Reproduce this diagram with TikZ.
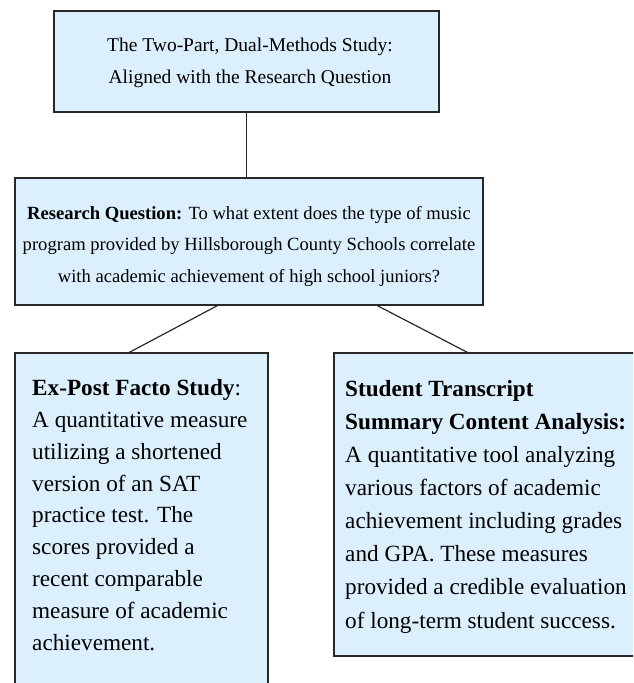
\documentclass[tikz,border=0pt]{standalone}
\usepackage{fontspec}
\setmainfont{Liberation Serif}
\definecolor{boxfill}{RGB}{220,239,252}
\definecolor{boxline}{RGB}{40,40,40}
\begin{document}
\begin{tikzpicture}[x=1pt,y=-1pt,
  box/.style={draw=boxline,fill=boxfill,line width=1.3pt,inner sep=0pt},
  txt/.style={inner sep=0pt,font=\fontsize{19.5}{32}\selectfont},
  conn/.style={draw=boxline,line width=1.2pt}]
\useasboundingbox (0,0) rectangle (633,683);
\clip (0,0) rectangle (633,683);
\node[box,minimum width=385pt,minimum height=101pt] (b1) at (246.5,61.5) {};
\node[box,minimum width=468pt,minimum height=127pt] (b2) at (249,241.5) {};
\node[box,minimum width=253pt,minimum height=380pt] (b3) at (141.5,543) {};
\node[box,minimum width=316pt,minimum height=303pt] (b4) at (492,504.5) {};
\node[txt,align=center] (t1) at (250,63) {The Two-Part, Dual-Methods Study:\\Aligned with the Research Question};
\node[txt,align=center,font=\fontsize{18.6}{31.5}\selectfont] (t2) at (249,246) {\textbf{Research Question:} To what extent does the type of music\\program provided by Hillsborough County Schools correlate\\with academic achievement of high school juniors?};
\node[txt,align=left,anchor=north west,font=\fontsize{23.2}{31.9}\selectfont] (t3) at (32,379) {\textbf{Ex-Post Facto Study}:\\A quantitative measure\\utilizing a shortened\\version of an SAT\\practice test. The\\scores provided a\\recent comparable\\measure of academic\\achievement.};
\node[txt,align=left,anchor=north west,font=\fontsize{23.2}{33.1}\selectfont] (t4) at (345,380) {\textbf{Student Transcript}\\\textbf{Summary Content Analysis:}\\A quantitative tool analyzing\\various factors of academic\\achievement including grades\\and GPA. These measures\\provided a credible evaluation\\of long-term student success.};
\draw[conn] (b1.south) -- (b2.north -| b1.south);
\draw[conn] ([xshift=203pt]b2.south west) -- ([xshift=115pt]b3.north west);
\draw[conn] ([xshift=363pt]b2.south west) -- ([xshift=134pt]b4.north west);
\end{tikzpicture}
\end{document}
